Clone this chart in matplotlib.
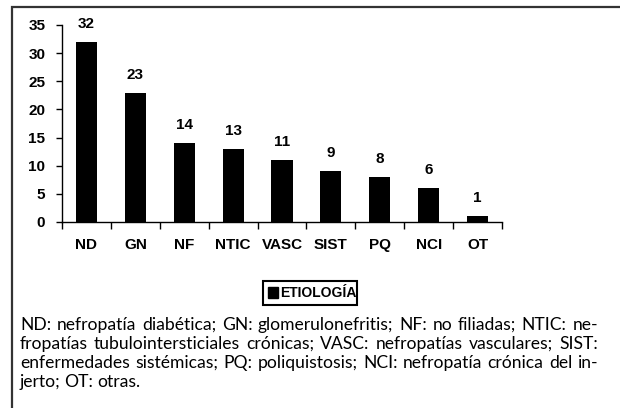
import matplotlib
matplotlib.use("Agg")
import matplotlib.pyplot as plt
from matplotlib.patches import Rectangle
from matplotlib.transforms import offset_copy

# datos
categorias = ["ND", "GN", "NF", "NTIC", "VASC", "SIST", "PQ", "NCI", "OT"]
valores = [32, 23, 14, 13, 11, 9, 8, 6, 1]
yticks = [0, 5, 10, 15, 20, 25, 30, 35]
leyenda = "ETIOLOGÍA"
nota = [
    "ND: nefropatía diabética; GN: glomerulonefritis; NF: no filiadas; NTIC: ne-",
    "fropatías tubulointersticiales crónicas; VASC: nefropatías vasculares; SIST:",
    "enfermedades sistémicas; PQ: poliquistosis; NCI: nefropatía crónica del in-",
    "jerto; OT: otras.",
]
fuente_nota = ['Lato', 'DejaVu Sans']

W, H = 620, 408
plt.rcParams['font.family'] = ['Liberation Sans', 'DejaVu Sans']
fig = plt.figure(figsize=(W / 100, H / 100), dpi=100)

# marco exterior
fig.patches.append(Rectangle((12 / W, -0.1), 1.0, (H - 7) / H + 0.1, transform=fig.transFigure,
                             fill=False, edgecolor='#333333', linewidth=1.6))

ax = fig.add_axes([62 / W, 1 - 222 / H, 440 / W, 197 / H])
x = list(range(len(categorias)))
ax.bar(x, valores, width=0.43, color='black')
ax.set_xlim(-0.5, len(categorias) - 0.5)
ax.set_ylim(0, 35)

arriba = offset_copy(ax.transData, fig=fig, x=0, y=11, units='dots')
for xi, v in zip(x, valores):
    ax.text(xi, v, str(v), transform=arriba, ha='center', va='bottom',
            fontsize=11, fontweight='bold')

ax.spines['top'].set_visible(False)
ax.spines['right'].set_visible(False)
ax.spines['left'].set_linewidth(1.0)
ax.spines['bottom'].set_linewidth(1.0)
ax.set_yticks(yticks)
ax.set_yticklabels([str(t) for t in yticks], fontsize=11, fontweight='bold')
ax.tick_params(axis='y', direction='out', length=4, width=1, pad=8)

# ticks entre categorias
ax.set_xticks([i - 0.5 for i in range(len(categorias) + 1)])
ax.set_xticklabels([])
ax.tick_params(axis='x', direction='out', length=5, width=1)
abajo = offset_copy(ax.get_xaxis_transform(), fig=fig, x=0, y=-16, units='dots')
for xi, c in zip(x, categorias):
    ax.text(xi, 0, c, transform=abajo, ha='center', va='top', fontsize=11, fontweight='bold')

# leyenda
fig.patches.append(Rectangle((263 / W, 1 - 305 / H), 94 / W, 24 / H, transform=fig.transFigure,
                             fill=False, edgecolor='black', linewidth=1.5))
fig.patches.append(Rectangle((268 / W, 1 - 298 / H), 10 / W, 11 / H, transform=fig.transFigure,
                             facecolor='black', edgecolor='black'))
fig.text(280 / W, 1 - 293 / H, leyenda, ha='left', va='center', fontsize=10, fontweight='bold')

# nota al pie, justificada
fig.canvas.draw()
renderer = fig.canvas.get_renderer()
x0, x1 = 20, 598
prueba = fig.text(0, 0, nota[0], fontsize=10, family=fuente_nota)
ancho10 = prueba.get_window_extent(renderer).width
prueba.remove()
tam = 10 * 566 / ancho10
y_lineas = [330, 349, 368, 387]
for k, (linea, yl) in enumerate(zip(nota, y_lineas)):
    palabras = linea.split(" ")
    ultima = k == len(nota) - 1
    textos = []
    anchos = []
    for p in palabras:
        t = fig.text(0, 1 - yl / H, p, fontsize=tam, family=fuente_nota, ha='left', va='baseline')
        textos.append(t)
        anchos.append(t.get_window_extent(renderer).width)
    total = sum(anchos)
    if ultima:
        espacio = tam * 0.3
    else:
        espacio = (x1 - x0 - total) / (len(palabras) - 1)
    pos = x0
    for t, w in zip(textos, anchos):
        t.set_x(pos / W)
        pos += w + espacio

fig.savefig("out.png", dpi=100)
